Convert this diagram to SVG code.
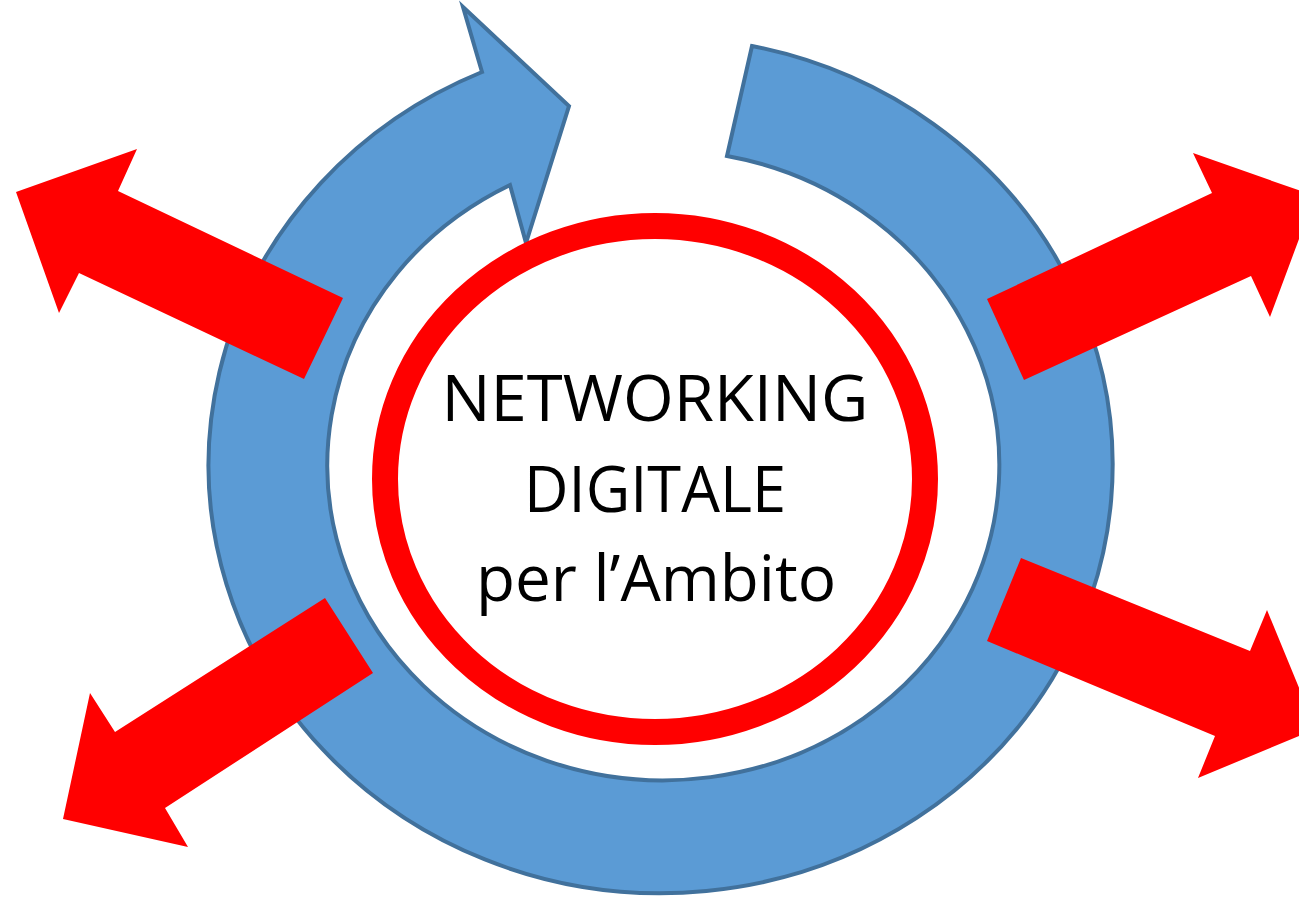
<svg xmlns="http://www.w3.org/2000/svg" width="1299" height="898" viewBox="0 0 1299 898">
<style>
.blue{fill:#5B9BD5;stroke:#41719C;stroke-width:4;stroke-linejoin:miter}
.red{fill:#FF0000;stroke:none}
.ring{fill:none;stroke:#FF0000;stroke-width:26}
.lbl{font-family:"Open Sans","Noto Sans","Liberation Sans",sans-serif;font-size:64px;fill:#000;text-anchor:middle}
</style>
<rect width="1299" height="898" fill="#fff"/>
<g id="cycle">
<path class="blue" d="M752,46 A452,428 0 1 1 482,72 L463,7 L569,106 L526,243 L510,185 A336,315 0 1 0 727,156 Z"/>
</g>
<g id="connectors">
<polygon class="red" points="16,192 137,149 118,191 343,298 304,379 79,273 59,313"/>
<polygon class="red" points="1315,196 1270,317 1251,276 1024,380 987,299 1212,193 1193,153"/>
<polygon class="red" points="1316,729 1198,778 1215,736 987,641 1021,558 1250,651 1267,610"/>
<polygon class="red" points="63,819 90,693 115,732 325,598 373,673 165,808 188,847"/>
</g>
<g id="center">
<ellipse class="ring" cx="655" cy="479" rx="270" ry="253"/>
<text class="lbl" x="655" y="421" textLength="427" lengthAdjust="spacingAndGlyphs">NETWORKING</text>
<text class="lbl" x="655" y="512" textLength="262" lengthAdjust="spacingAndGlyphs">DIGITALE</text>
<text class="lbl" x="656" y="601" textLength="360" lengthAdjust="spacingAndGlyphs">per l’Ambito</text>
</g>
</svg>
